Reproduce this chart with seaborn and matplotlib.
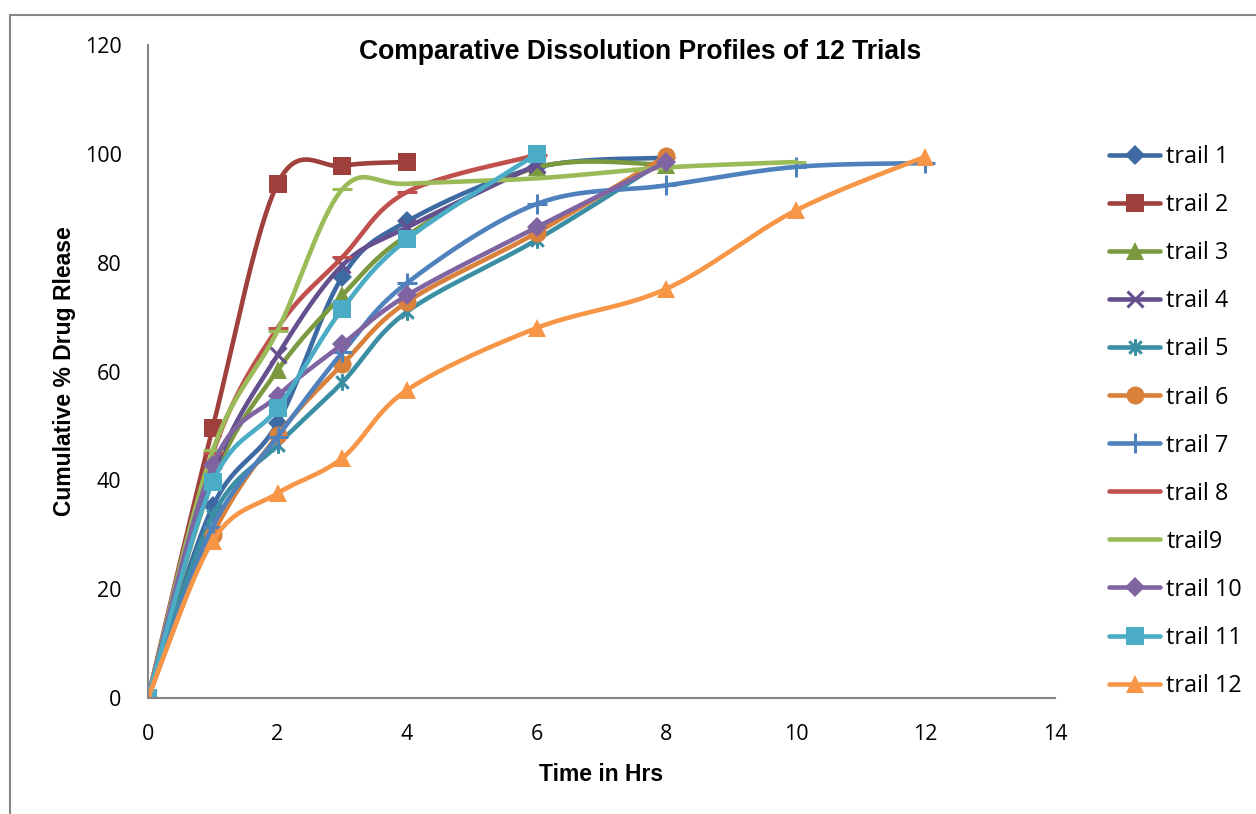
import numpy as np
import matplotlib
matplotlib.use("Agg")
import matplotlib.pyplot as plt
from matplotlib.path import Path
from matplotlib.lines import Line2D
from matplotlib.patches import Rectangle
import seaborn as sns

# ---- data: cumulative % drug release vs time (hrs) for each trial ----
t_a = [0, 1, 2, 3, 4, 6, 8]
t_b = [0, 1, 2, 3, 4]
t_c = [0, 1, 2, 3, 4, 6]
t_d = [0, 1, 2, 3, 4, 6, 8, 10, 12]
t_e = [0, 1, 2, 3, 4, 6, 8, 10]

trail1 = [0, 35.2, 50.5, 77.4, 87.6, 97.5, 99.3]
trail2 = [0, 49.7, 94.5, 97.8, 98.5]
trail3 = [0, 40.0, 60.2, 74.0, 85.0, 97.5, 98.0]
trail4 = [0, 41.0, 63.0, 79.5, 86.5, 98.0]
trail5 = [0, 33.5, 46.5, 58.0, 71.0, 84.2, 99.0]
trail6 = [0, 30.0, 48.3, 61.3, 72.8, 85.5, 99.6]
trail7 = [0, 31.5, 48.0, 63.5, 76.3, 90.8, 94.2, 97.6, 98.3]
trail8 = [0, 45.0, 68.0, 81.0, 93.0, 99.8]
trail9 = [0, 45.5, 67.5, 93.5, 94.5, 95.5, 97.5, 98.5]
trail10 = [0, 42.8, 55.5, 65.0, 74.0, 86.5, 98.5]
trail11 = [0, 39.7, 53.3, 71.5, 84.3, 100.0]
trail12 = [0, 28.9, 37.6, 44.1, 56.6, 68.0, 75.2, 89.6, 99.5]

labels = ["trail 1", "trail 2", "trail 3", "trail 4", "trail 5", "trail 6",
          "trail 7", "trail 8", "trail9", "trail 10", "trail 11", "trail 12"]
times = [t_a, t_b, t_a, t_c, t_a, t_a, t_d, t_c, t_e, t_a, t_c, t_d]
values = [trail1, trail2, trail3, trail4, trail5, trail6,
          trail7, trail8, trail9, trail10, trail11, trail12]

colors = ["#3D6AA2", "#A0403D", "#7B9A3F", "#65508F", "#3A8FA4", "#D9803A",
          "#4F81BD", "#C0504D", "#9BBB59", "#8064A2", "#4BACC6", "#F79646"]

# asterisk marker: vertical stroke plus two diagonals
asterisk = Path([(0, -1), (0, 1), (-0.75, -0.75), (0.75, 0.75),
                 (-0.75, 0.75), (0.75, -0.75)],
                [Path.MOVETO, Path.LINETO, Path.MOVETO, Path.LINETO,
                 Path.MOVETO, Path.LINETO])

markers = ["D", "s", "^", "x", asterisk, "o", "+", "_", "_", "D", "s", "^"]
msizes = [10.5, 13, 13, 11, 12, 13, 14, 15, 15, 10.5, 13, 13]
filled = [True, True, True, False, False, True, False, False, False, True, True, True]


def smooth(x, y, n=40):
    """Cubic Bezier curve through the points (Catmull-Rom style tangents)."""
    p = np.column_stack([x, y]).astype(float)
    pts = np.vstack([p[0], p, p[-1]])
    out = []
    for i in range(1, len(pts) - 2):
        p0, p1, p2, p3 = pts[i - 1], pts[i], pts[i + 1], pts[i + 2]
        c1 = p1 + (p2 - p0) / 6.0
        c2 = p2 - (p3 - p1) / 6.0
        s = np.linspace(0, 1, n)[:, None]
        seg = ((1 - s) ** 3) * p1 + 3 * ((1 - s) ** 2) * s * c1 + \
            3 * (1 - s) * s ** 2 * c2 + s ** 3 * p2
        out.append(seg if i == 1 else seg[1:])
    c = np.vstack(out)
    return c[:, 0], c[:, 1]


sns.set_theme(style="white")
plt.rcParams["font.family"] = ["Open Sans", "DejaVu Sans"]
plt.rcParams["text.color"] = "black"
plt.rcParams["axes.labelcolor"] = "black"

fig = plt.figure(figsize=(12.56, 8.14), dpi=100)
ax = fig.add_axes([0.1178, 0.1425, 0.7222, 0.8022])

grey = "#868686"
lw = 3.3
bold_family = ["Liberation Sans", "DejaVu Sans"]

for x, y, col, mk, ms, fl in zip(times, values, colors, markers, msizes, filled):
    sx, sy = smooth(x, y)
    sns.lineplot(x=sx, y=sy, ax=ax, color=col, linewidth=lw, sort=False,
                 estimator=None, solid_capstyle="round")
    sns.lineplot(x=x, y=y, ax=ax, color=col, linestyle="none", marker=mk,
                 markersize=ms, markeredgewidth=(0 if fl else 2.2),
                 markerfacecolor=col, markeredgecolor=col, sort=False,
                 estimator=None)

ax.set_xlim(0, 14)
ax.set_ylim(0, 120)
ax.set_xticks(range(0, 15, 2))
ax.set_yticks(range(0, 121, 20))
for side in ["top", "right"]:
    ax.spines[side].set_visible(False)
for side in ["left", "bottom"]:
    ax.spines[side].set_color(grey)
    ax.spines[side].set_linewidth(1.5)
ax.tick_params(axis="both", direction="out", length=6, width=1.5, color=grey,
               labelsize=15.5, labelcolor="black")
ax.tick_params(axis="x", pad=13)
ax.tick_params(axis="y", pad=13)
ax.set_xlabel("Time in Hrs", fontsize=16.5, fontweight="bold", labelpad=13,
              family=bold_family)
ax.set_ylabel("Cumulative % Drug Rlease", fontsize=16.5, fontweight="bold",
              labelpad=6, family=bold_family)

fig.text(640 / 1256, 1 - 52 / 814, "Comparative Dissolution Profiles of 12 Trials",
         ha="center", va="center", fontsize=19.1, fontweight="bold",
         family=bold_family, color="black")

# legend
handles = []
for col, mk, ms, fl in zip(colors, markers, msizes, filled):
    handles.append(Line2D([0], [0], color=col, linewidth=lw, marker=mk,
                          markersize=ms, markeredgewidth=(0 if fl else 2.2),
                          markerfacecolor=col, markeredgecolor=col))
fig.legend(handles, labels, loc="upper left",
           bbox_to_anchor=(1100 / 1256, 1 - 136 / 814), frameon=False,
           fontsize=16.8, handlelength=2.19, handletextpad=0.25,
           labelspacing=1.03, borderaxespad=0, labelcolor="black")

# chart border
fig.add_artist(Rectangle((10 / 1256, -0.05), 1.2, 1 - 15 / 814 + 0.05,
                         transform=fig.transFigure, fill=False,
                         edgecolor=grey, linewidth=1.5))

fig.savefig("out.png", dpi=100)
